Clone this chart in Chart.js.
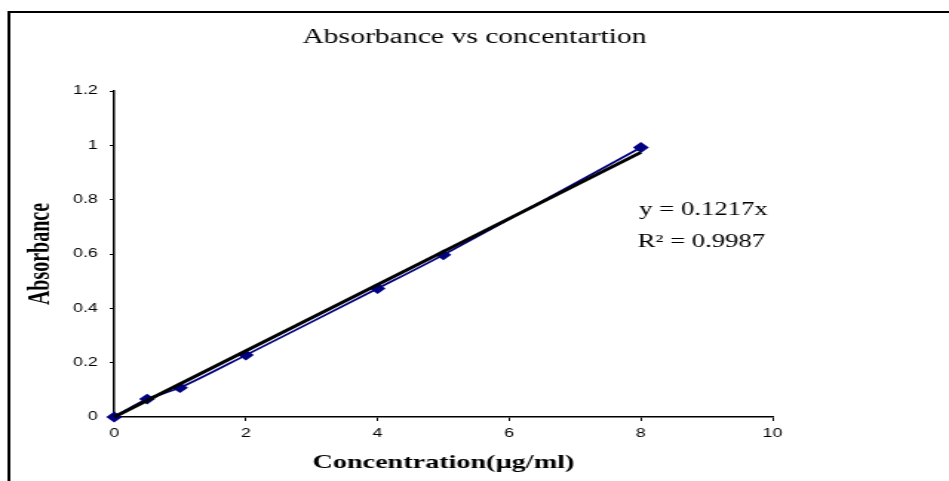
<!DOCTYPE html>
<html>
<head>
<meta charset="utf-8">
<script src="https://cdn.jsdelivr.net/npm/chart.js@4"></script>
<style>
  html, body { margin: 0; padding: 0; background: #fff; overflow: hidden; }
  #wrap { width: 640px; height: 481px; transform: scaleX(1.4828); transform-origin: 0 0; }
</style>
</head>
<body>
<div id="wrap"><canvas id="absChart" width="640" height="481"></canvas></div>
<script>
// readings
let concentration = [0, 0.5, 1, 2, 4, 5, 8];
let absorbance = [0, 0.066, 0.108, 0.228, 0.473, 0.597, 0.992];

// linear trendline (through origin), ends
let trendX = [0, 8];
let trendY = [0, 0.974];

let xTicks = [0, 2, 4, 6, 8, 10];
let yTicks = [0, 0.2, 0.4, 0.6, 0.8, 1, 1.2];

let titleText = 'Absorbance vs concentartion';
let xTitle = 'Concentration(\u00b5g/ml)';
let yTitle = 'Absorbance';
let eqLines = ['y = 0.1217x', 'R\u00b2 = 0.9987'];

const serif = "'Liberation Serif', 'Times New Roman', serif";
const sans = "'Liberation Sans', Arial, sans-serif";

// frame + equation text
const extras = {
    id: 'extras',
    afterDraw(chart) {
        const ctx = chart.ctx;
        ctx.save();
        ctx.strokeStyle = '#000';
        ctx.lineWidth = 2;
        ctx.beginPath();
        ctx.moveTo(6, chart.height + 5);
        ctx.lineTo(6, 12);
        ctx.lineTo(chart.width + 5, 12);
        ctx.stroke();

        ctx.fillStyle = '#000';
        ctx.font = '18px ' + serif;
        ctx.textAlign = 'left';
        ctx.textBaseline = 'alphabetic';
        ctx.fillText(eqLines[0], 431, 215);
        ctx.fillText(eqLines[1], 430, 247);
        ctx.restore();
    }
};

let data = {
    datasets: [{
        label: 'Trend',
        data: trendX.map((x, i) => ({x: x, y: trendY[i]})),
        showLine: true,
        borderColor: '#000',
        borderWidth: 3,
        pointRadius: 0,
        clip: false,
        order: 0
    },
    {
        label: 'Absorbance',
        data: concentration.map((x, i) => ({x: x, y: absorbance[i]})),
        showLine: true,
        tension: 0.3,
        borderColor: '#000080',
        borderWidth: 1.7,
        backgroundColor: '#000080',
        pointStyle: 'rectRot',
        pointRadius: 5.4,
        pointBorderWidth: 0,
        clip: false,
        order: 1
    }]
};

let config = {
    type: 'scatter',
    data: data,
    plugins: [extras],
    options: {
        responsive: false,
        animation: false,
        layout: { padding: 0 },
        plugins: {
            legend: { display: false },
            tooltip: { enabled: false },
            title: {
                display: true,
                text: titleText,
                color: '#000',
                font: { family: serif, size: 20, weight: 'normal', lineHeight: 1.2 },
                padding: { top: 26, bottom: 41 }
            }
        },
        scales: {
            x: {
                type: 'linear',
                min: 0, max: 10,
                afterBuildTicks: (scale) => { scale.ticks = xTicks.map(v => ({value: v})); },
                afterFit: (scale) => { scale.height = 64; },
                grid: { drawOnChartArea: false, drawTicks: true, tickLength: 4, tickColor: '#000', tickWidth: 1 },
                border: { display: true, color: '#000', width: 1.5 },
                ticks: { color: '#000', font: { family: sans, size: 12 }, padding: 5, maxRotation: 0 },
                title: {
                    display: true,
                    text: xTitle,
                    color: '#000',
                    font: { family: serif, size: 19, weight: 'bold', lineHeight: 1.2 },
                    padding: { top: 0, bottom: 7 }
                }
            },
            y: {
                type: 'linear',
                min: 0, max: 1.2,
                afterBuildTicks: (scale) => { scale.ticks = yTicks.map(v => ({value: v})); },
                afterFit: (scale) => { scale.width = 77; },
                grid: { drawOnChartArea: false, drawTicks: true, tickLength: 3, tickColor: '#000', tickWidth: 1 },
                border: { display: true, color: '#000', width: 1.5 },
                ticks: {
                    color: '#000', font: { family: sans, size: 12 }, padding: 8,
                    callback: (v) => String(v)
                },
                title: {
                    display: true,
                    text: yTitle,
                    color: '#000',
                    font: { family: serif, size: 20, weight: 'bold', lineHeight: 1.2 },
                    padding: { top: 16, bottom: 0 }
                }
            },
            // empty right-hand strip where the equation sits
            yRight: {
                type: 'linear',
                position: 'right',
                display: true,
                afterFit: (scale) => { scale.width = 119; },
                grid: { display: false },
                border: { display: false },
                ticks: { display: false },
                title: { display: false }
            }
        }
    }
};

let absChart = new Chart(document.getElementById('absChart'), config);
</script>
</body>
</html>
